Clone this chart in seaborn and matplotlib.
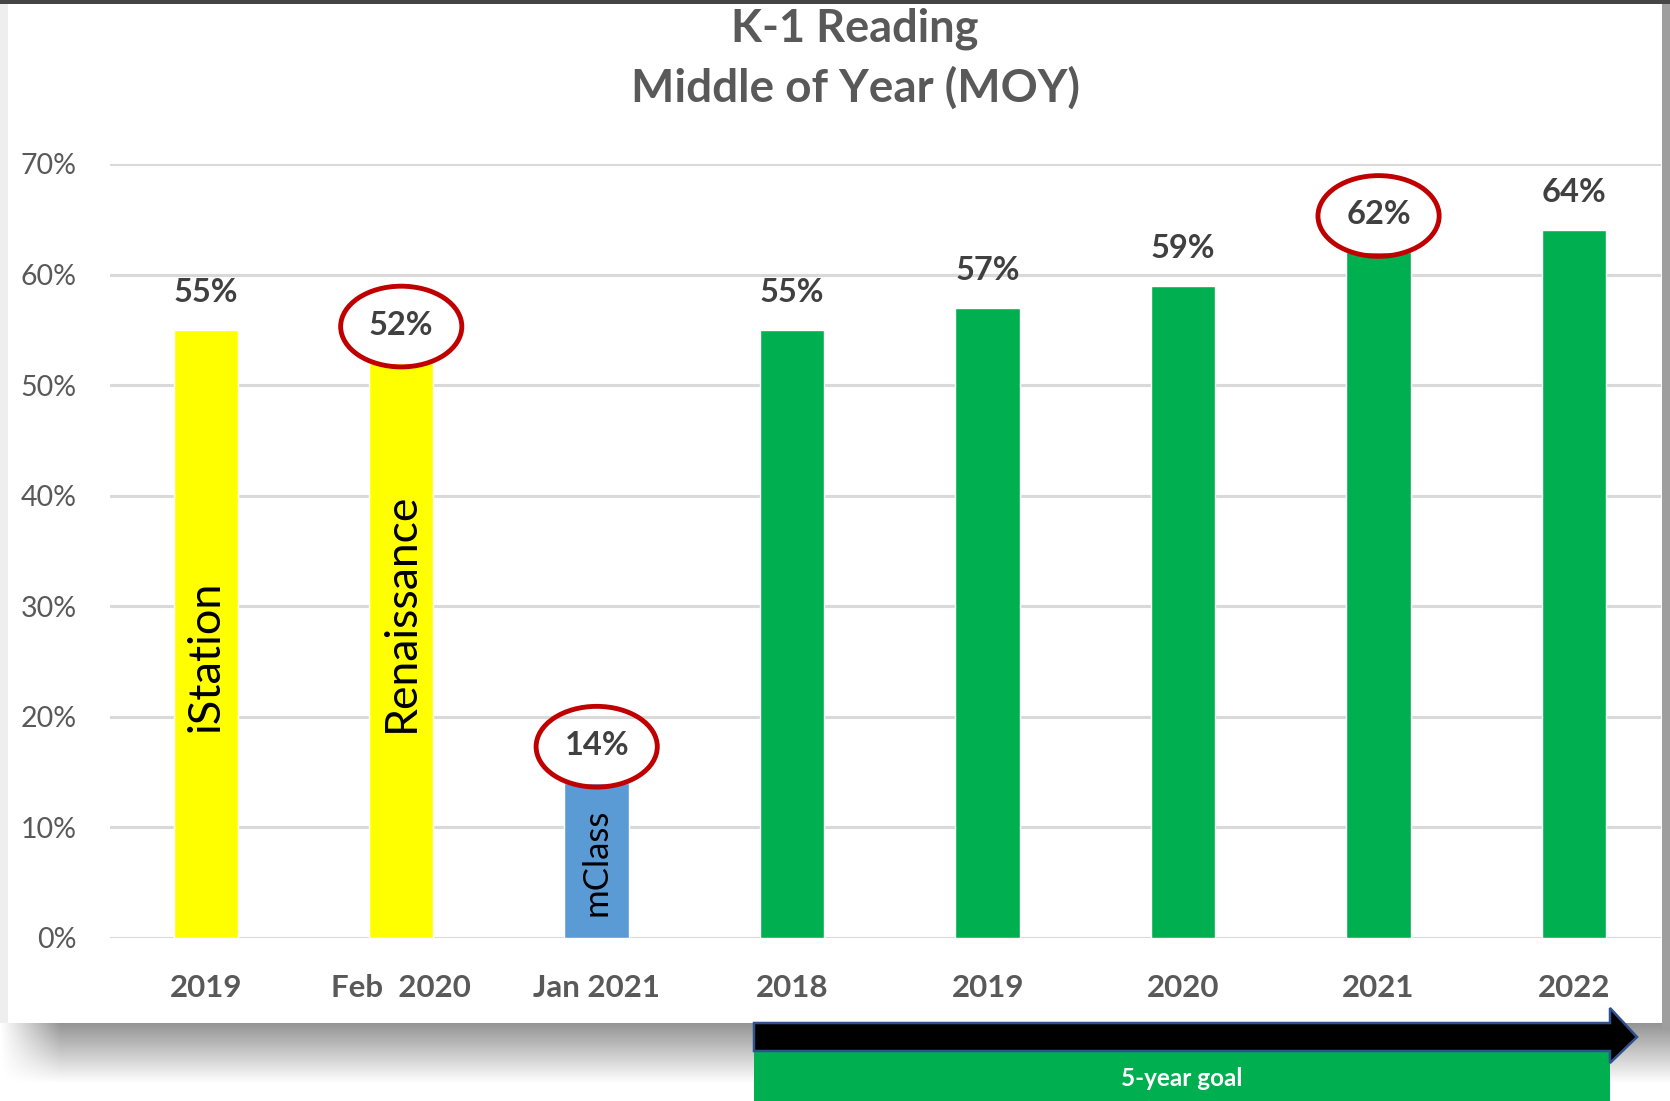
import matplotlib
matplotlib.use("Agg")
import matplotlib.pyplot as plt
import matplotlib.ticker as mtick
from matplotlib.patches import Ellipse, Polygon, Rectangle
import numpy as np
import pandas as pd
import seaborn as sns

# chart data
labels = ["2019", "Feb  2020", "Jan 2021", "2018", "2019", "2020", "2021", "2022"]
values = [0.55, 0.52, 0.14, 0.55, 0.57, 0.59, 0.62, 0.64]
bar_colors = ["#FFFF00", "#FFFF00", "#5B9BD5", "#00B050", "#00B050", "#00B050", "#00B050", "#00B050"]
test_names = ["iStation", "Renaissance", "mClass"]
circled = [1, 2, 6]

sns.set_theme(style="white")
plt.rcParams['font.family'] = ['Lato', 'DejaVu Sans']

df = pd.DataFrame({"slot": [str(i) for i in range(len(values))], "pct": values})

W, H = 1670, 1101
fig = plt.figure(figsize=(W / 100, H / 100), dpi=100)

# card with drop shadow behind the chart
img = np.ones((H, W))
rows = np.arange(H)[:, None]
cols = np.arange(W)[None, :]
shade = np.clip(0.58 + 0.42 * (rows - 1023) / 60, 0.58, 1.0)
fade = np.clip(cols / 60, 0, 1)
bottom = (rows >= 1023) & (rows < 1090)
img = np.where(bottom, 1 - (1 - shade) * fade, img)
img[3:1023, :8] = 0.93
img[:1030, 1662:] = 0.62
img[:4, :] = 0.27
bg = fig.add_axes([0, 0, 1, 1], zorder=-5)
bg.imshow(img, cmap="gray", vmin=0, vmax=1, aspect="auto", interpolation="bilinear")
bg.axis("off")

ax = fig.add_axes([110 / W, 1 - 938 / H, (1661 - 110) / W, (938 - 164) / H])
ax.patch.set_alpha(0)

sns.barplot(data=df, x="slot", y="pct", hue="slot", palette=bar_colors,
            width=0.33, saturation=1, legend=False, ax=ax)

ax.set_ylim(0, 0.70)
ax.set_xlim(-0.49, 7.445)
ax.set_yticks(np.arange(0, 0.71, 0.1))
ax.yaxis.set_major_formatter(mtick.PercentFormatter(1.0, decimals=0))
ax.set_xticks(range(len(labels)))
ax.set_xticklabels(labels, fontsize=22.5, fontweight="bold", color="#595959")
ax.tick_params(axis="y", labelsize=20.5, labelcolor="#595959", pad=24, length=0)
ax.tick_params(axis="x", pad=26, length=0)
ax.set_xlabel("")
ax.set_ylabel("")
ax.yaxis.grid(True, color="#D9D9D9", lw=2.2)
ax.set_axisbelow(True)
sns.despine(ax=ax, left=True, bottom=True)

# value labels
for i, v in enumerate(values):
    ax.annotate(f"{v:.0%}", (i, v), xytext=(0, 27), textcoords="offset points",
                ha="center", va="center", fontsize=23.5, fontweight="bold", color="#404040")

# test names inside the first bars
name_y = [0.186, 0.186, 0.02]
name_size = [32.5, 32, 25]
for i, name in enumerate(test_names):
    ax.text(i, name_y[i], name, rotation=90, ha="center", va="bottom",
            fontsize=name_size[i], color="black")

# red circles
for i in circled:
    ax.add_patch(Ellipse((i, values[i] + 0.033), width=0.62, height=0.073, fill=False,
                         ec="#C00000", lw=3.5, clip_on=False, zorder=5))

# title
fig.text(0.512, 1 - 29 / H, "K-1 Reading", ha="center", va="center",
         fontsize=32.5, fontweight="bold", color="#595959")
fig.text(0.512, 1 - 88 / H, "Middle of Year (MOY)", ha="center", va="center",
         fontsize=33, fontweight="bold", color="#595959")

# 5-year goal arrow and box
x0, x1, xt = 754 / W, 1610 / W, 1637 / W
fig.patches.append(Rectangle((x0, 0), x1 - x0, 1 - 1051 / H, transform=fig.transFigure,
                             fc="#00B050", ec="none", zorder=3))
yb_top, yb_bot = 1 - 1023 / H, 1 - 1051 / H
yh_top, yh_bot = 1 - 1008 / H, 1 - 1063 / H
arrow_pts = [(x0, yb_top), (x1, yb_top), (x1, yh_top), (xt, (yb_top + yb_bot) / 2),
             (x1, yh_bot), (x1, yb_bot), (x0, yb_bot)]
fig.patches.append(Polygon(arrow_pts, closed=True, transform=fig.transFigure,
                           fc="black", ec="#2F528F", lw=1.8, zorder=4))
fig.text((x0 + x1) / 2, 1 - 1079 / H, "5-year goal", ha="center", va="center",
         fontsize=17.5, fontweight="bold", color="white", zorder=5)

fig.savefig("out.png", dpi=100)
